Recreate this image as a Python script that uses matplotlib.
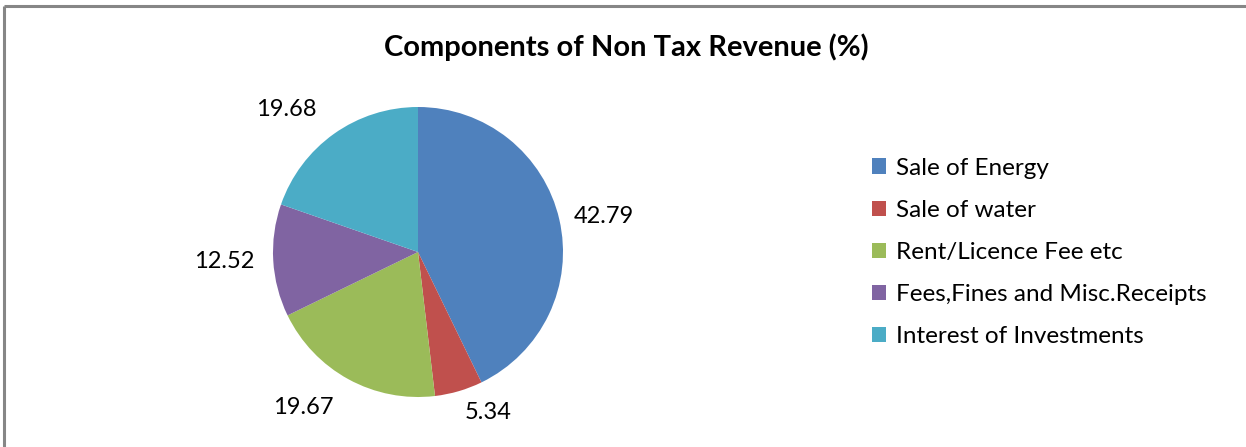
import matplotlib
matplotlib.use('Agg')
import matplotlib.pyplot as plt
from matplotlib.lines import Line2D

plt.rcParams['font.family'] = ['Lato', 'DejaVu Sans']

labels = ['Sale of Energy', 'Sale of water', 'Rent/Licence Fee etc',
          'Fees,Fines and Misc.Receipts', 'Interest of Investments']
shares = [42.79, 5.34, 19.67, 12.52, 19.68]
colors = ['#4F81BD', '#C0504D', '#9BBB59', '#8064A2', '#4BACC6']

W, H = 1246, 447
fig = plt.figure(figsize=(W / 100, H / 100), dpi=100)

# pie axes: 400x400 px box centred on the pie, radius 1 -> 145 px
cx, cy, box = 418, 252, 400
ax = fig.add_axes([(cx - box / 2) / W, 1 - (cy + box / 2) / H, box / W, box / H])
wedges, texts = ax.pie(shares, colors=colors, startangle=90, counterclock=False,
                       labels=['%.2f' % v for v in shares], labeldistance=1.0,
                       textprops=dict(fontsize=17, color='black'))
# push each value label out from the rim by its own distance
label_dist = [1.1, 1.15, 1.22, 1.13, 1.21]
for t, d in zip(texts, label_dist):
    x, y = t.get_position()
    t.set_position((x * d, y * d))
lim = box / 2 / 145
ax.set_xlim(-lim, lim)
ax.set_ylim(-lim, lim)
ax.set_aspect('equal')
ax.axis('off')

fig.text(626 / W, 1 - 47 / H, 'Components of Non Tax Revenue (%)',
         ha='center', va='center', fontsize=21, fontweight='bold')

fig.legend(wedges, labels, loc='upper left', bbox_to_anchor=(862 / W, 1 - 148 / H),
           frameon=False, fontsize=17.5, handlelength=0.6, handleheight=0.6,
           handletextpad=0.4, labelspacing=0.87, borderaxespad=0)

# outer chart border (top and left edges)
fig.add_artist(Line2D([4 / W, 1], [1 - 5.5 / H, 1 - 5.5 / H], transform=fig.transFigure,
                      color='#868686', lw=2.2, solid_capstyle='butt'))
fig.add_artist(Line2D([4 / W, 4 / W], [0, 1 - 5.5 / H], transform=fig.transFigure,
                      color='#868686', lw=2.2, solid_capstyle='butt'))

fig.savefig('out.png', dpi=100, facecolor='white')
